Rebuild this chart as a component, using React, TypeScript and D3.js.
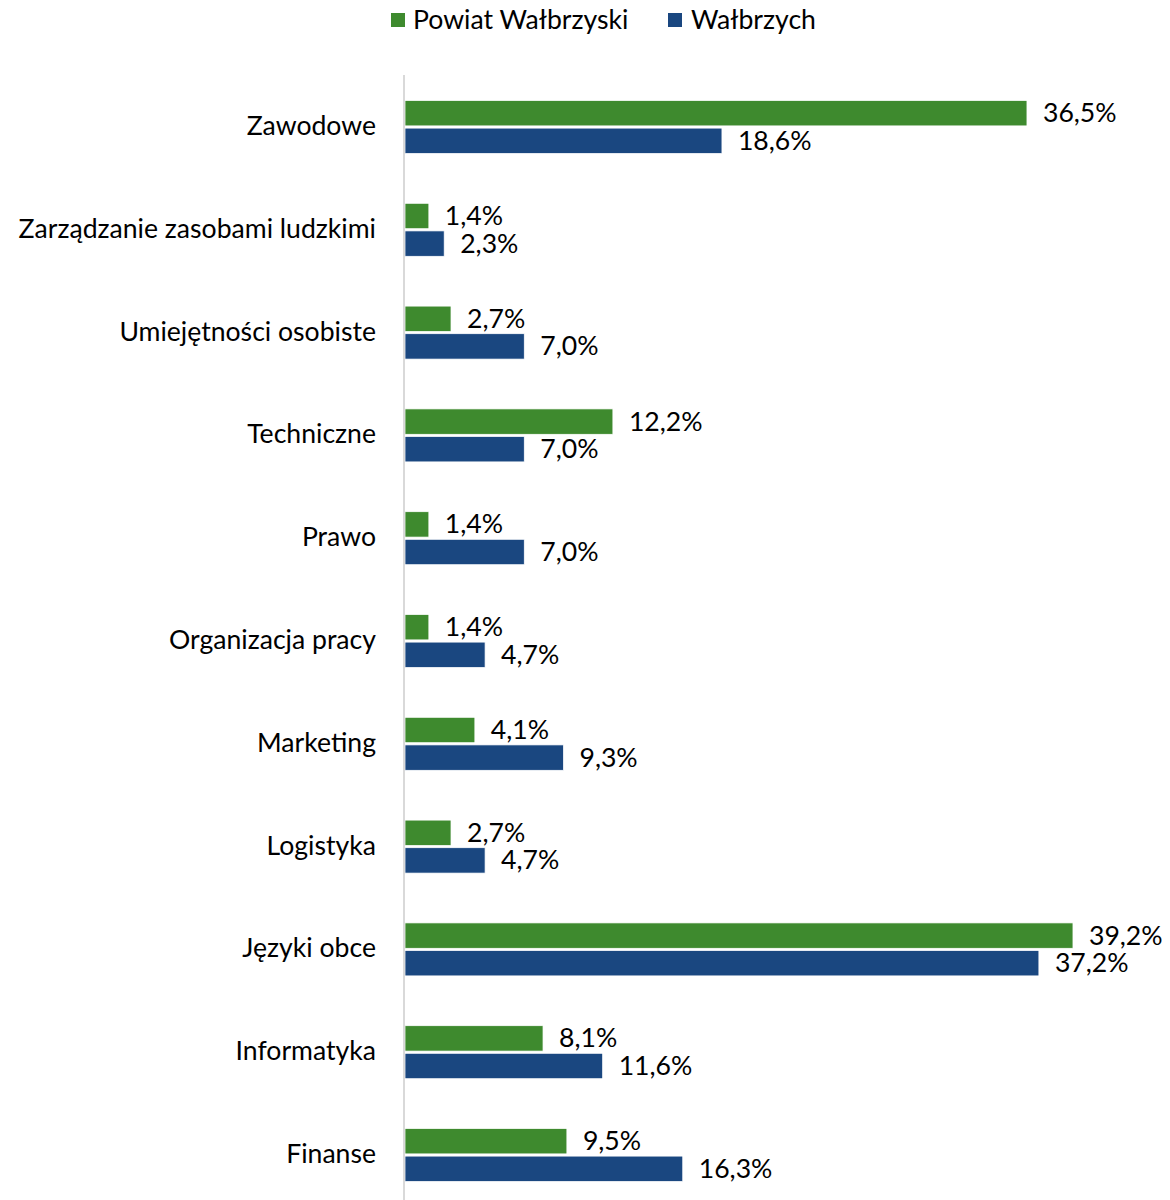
import React from "react";
import * as d3 from "d3";

const categories = [
  "Zawodowe",
  "Zarządzanie zasobami ludzkimi",
  "Umiejętności osobiste",
  "Techniczne",
  "Prawo",
  "Organizacja pracy",
  "Marketing",
  "Logistyka",
  "Języki obce",
  "Informatyka",
  "Finanse",
];
const seriesNames = ["Powiat Wałbrzyski", "Wałbrzych"];
const powiat = [36.5, 1.4, 2.7, 12.2, 1.4, 1.4, 4.1, 2.7, 39.2, 8.1, 9.5];
const walbrzych = [18.6, 2.3, 7.0, 7.0, 7.0, 4.7, 9.3, 4.7, 37.2, 11.6, 16.3];
const colors = ["#3E8A2E", "#1A4780"];

const W = 1170;
const H = 1200;
const FONT = "Lato, 'Open Sans', sans-serif";
const FS = 26.6;

export default function App() {
  const x = d3.scaleLinear().domain([0, 40]).range([405, 405 + 40 * 17.04]);
  const y = d3.scaleBand<string>().domain(categories).range([75.6, 1206.4]).padding(0);
  const yi = d3.scaleBand<string>().domain(seriesNames).range([0, 53]).paddingInner(0.08);
  const values = [powiat, walbrzych];
  const fmt = (v: number) => v.toFixed(1).replace(".", ",") + "%";

  return (
    <svg width={W} height={H} style={{ position: "absolute", left: 0, top: 0, background: "#fff" }} fontFamily={FONT}>
      <rect x={0} y={0} width={W} height={H} fill="#fff" />
      {/* legend */}
      <g>
        <rect x={391} y={13} width={14} height={14} fill={colors[0]} />
        <text x={413} y={19} dominantBaseline="central" fontSize={FS} fill="#000">{seriesNames[0]}</text>
        <rect x={668} y={13} width={14} height={14} fill={colors[1]} />
        <text x={691} y={19} dominantBaseline="central" fontSize={FS} fill="#000">{seriesNames[1]}</text>
      </g>
      {categories.map((c, i) => {
        const cy = (y(c) as number) + y.bandwidth() / 2;
        const top = cy - 26.5;
        return (
          <g key={c}>
            <text x={376} y={cy - 2} textAnchor="end" dominantBaseline="central" fontSize={FS} fill="#000">{c}</text>
            {seriesNames.map((s, j) => {
              const v = values[j][i];
              const by = top + (yi(s) as number);
              return (
                <g key={s}>
                  <rect x={x(0)} y={by} width={x(v) - x(0)} height={yi.bandwidth()} fill={colors[j]} stroke="#ffffff" strokeWidth={0.75} />
                  <text x={x(v) + 16} y={by + yi.bandwidth() / 2 - 1} dominantBaseline="central" fontSize={FS} fill="#000">{fmt(v)}</text>
                </g>
              );
            })}
          </g>
        );
      })}
      <line x1={404} x2={404} y1={75} y2={1200} stroke="#d9d9d9" strokeWidth={2} />
    </svg>
  );
}
